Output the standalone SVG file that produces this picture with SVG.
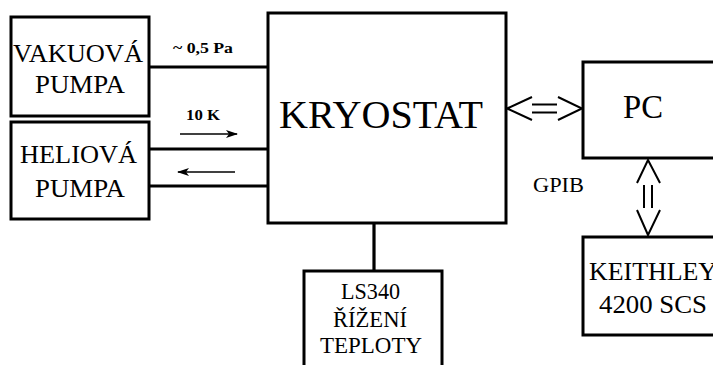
<svg xmlns="http://www.w3.org/2000/svg" width="713" height="365" viewBox="0 0 713 365">
<style>
.box{fill:#fff;stroke:#000;stroke-width:3}
.t{font-family:'Liberation Serif','Times New Roman','DejaVu Serif',serif;fill:#000;text-anchor:middle}
.thick{stroke:#000;stroke-width:3.2;fill:none}
.thin{stroke:#000;stroke-width:1.6;fill:none}
.dbl{stroke:#000;stroke-width:2;fill:none}
</style>
<defs>
<marker id="ah" viewBox="0 0 12 8" refX="11" refY="4" markerWidth="12" markerHeight="8" markerUnits="userSpaceOnUse" orient="auto">
<path d="M0,0 L12,4 L0,8 L3,4 Z" fill="#000"/>
</marker>
</defs>
<g id="connectors">
<line class="thick" x1="149" y1="67" x2="268" y2="67"/>
<line class="thick" x1="149" y1="149" x2="268" y2="149"/>
<line class="thick" x1="149" y1="186" x2="268" y2="186"/>
<line class="thin" x1="180" y1="134" x2="237" y2="134" marker-end="url(#ah)"/>
<line class="thin" x1="235" y1="172" x2="178" y2="172" marker-end="url(#ah)"/>
<line class="thick" x1="374" y1="223" x2="374" y2="271"/>
<path class="dbl" d="M532,97 L507,108.5 L532,120 M532,104.5 H557 M532,112.5 H557 M558,97 L582,108.5 L558,120"/>
<path class="dbl" d="M637,183 L648,160 L660,183 M644,185 V208 M652,185 V208 M637,210 L648,235 L660,210"/>
</g>
<g id="vakuova">
<rect class="box" x="11" y="17" width="138" height="99"/>
<text class="t" x="78" y="62" font-size="25" textLength="130" lengthAdjust="spacingAndGlyphs">VAKUOVÁ</text>
<text class="t" x="80" y="93" font-size="25" textLength="90" lengthAdjust="spacingAndGlyphs">PUMPA</text>
</g>
<g id="heliova">
<rect class="box" x="11" y="122" width="138" height="97"/>
<text class="t" x="78.5" y="163" font-size="25" textLength="117" lengthAdjust="spacingAndGlyphs">HELIOVÁ</text>
<text class="t" x="80" y="197" font-size="25" textLength="90" lengthAdjust="spacingAndGlyphs">PUMPA</text>
</g>
<g id="labels">
<text class="t" x="203" y="53" font-size="14" font-weight="bold" textLength="60" lengthAdjust="spacingAndGlyphs">~ 0,5 Pa</text>
<text class="t" x="203" y="120" font-size="14" font-weight="bold" textLength="34" lengthAdjust="spacingAndGlyphs">10 K</text>
<text class="t" x="558.5" y="192" font-size="21" textLength="51" lengthAdjust="spacingAndGlyphs">GPIB</text>
</g>
<g id="kryostat">
<rect class="box" x="268" y="13" width="238" height="210"/>
<text class="t" x="381" y="128" font-size="40" textLength="204" lengthAdjust="spacingAndGlyphs">KRYOSTAT</text>
</g>
<g id="pc">
<rect class="box" x="583" y="62" width="140" height="96"/>
<text class="t" x="643" y="118" font-size="34" textLength="40" lengthAdjust="spacingAndGlyphs">PC</text>
</g>
<g id="keithley">
<rect class="box" x="583" y="237" width="140" height="98"/>
<text class="t" x="653" y="280" font-size="26" textLength="128" lengthAdjust="spacingAndGlyphs">KEITHLEY</text>
<text class="t" x="653" y="313" font-size="26" textLength="108" lengthAdjust="spacingAndGlyphs">4200 SCS</text>
</g>
<g id="ls340">
<rect class="box" x="304" y="271" width="138" height="110"/>
<text class="t" x="370.5" y="299" font-size="23" textLength="59" lengthAdjust="spacingAndGlyphs">LS340</text>
<text class="t" x="370" y="327" font-size="23" textLength="74" lengthAdjust="spacingAndGlyphs">ŘÍŽENÍ</text>
<text class="t" x="371" y="353" font-size="23" textLength="102" lengthAdjust="spacingAndGlyphs">TEPLOTY</text>
</g>
</svg>
